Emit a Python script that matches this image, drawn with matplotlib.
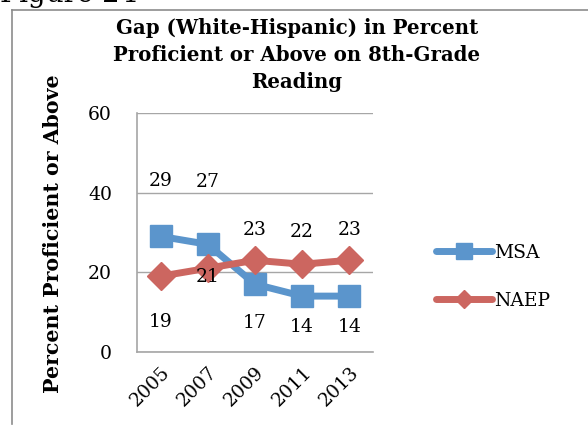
import matplotlib
matplotlib.use("Agg")
import matplotlib.pyplot as plt
from matplotlib.lines import Line2D

# data
years = ["2005", "2007", "2009", "2011", "2013"]
msa = [29, 27, 17, 14, 14]
naep = [19, 21, 23, 22, 23]
y_ticks = [0, 20, 40, 60]

# label offsets (points) as placed by the original chart
msa_label_dy = [40, 45, -28, -22, -22]
naep_label_dy = [-33, -6, 22, 23, 22]

BLUE = "#5b95cc"
RED = "#cc6660"
SERIF = "DejaVu Serif"

fig = plt.figure(figsize=(5.88, 4.26), dpi=100)
ax = fig.add_axes([0.233, 0.174, 0.401, 0.561])

x = range(len(years))
ax.plot(x, msa, color=BLUE, lw=5, marker="s", ms=16.5, solid_capstyle="round", zorder=3)
ax.plot(x, naep, color=RED, lw=5, marker="D", ms=14, solid_capstyle="round", zorder=3)

for i, (v, dy) in enumerate(zip(msa, msa_label_dy)):
    ax.annotate(str(v), (i, v), xytext=(0, dy), textcoords="offset points",
                ha="center", va="center", fontsize=13.5, family=SERIF, zorder=4)
for i, (v, dy) in enumerate(zip(naep, naep_label_dy)):
    ax.annotate(str(v), (i, v), xytext=(0, dy), textcoords="offset points",
                ha="center", va="center", fontsize=13.5, family=SERIF, zorder=4)

ax.set_xlim(-0.5, len(years) - 0.5)
ax.set_ylim(0, 60)
ax.set_yticks(y_ticks)
ax.set_yticklabels([str(t) for t in y_ticks], family=SERIF, fontsize=13.5)
ax.set_xticks(list(x))
ax.set_xticklabels(years, family=SERIF, fontsize=13.5, rotation=45,
                   ha="right", rotation_mode="anchor")
ax.tick_params(axis="y", length=0, pad=18)
ax.tick_params(axis="x", length=0, pad=8)
ax.grid(axis="y", color="#a6a6a6", lw=1)
ax.set_axisbelow(True)
for s in ["top", "right"]:
    ax.spines[s].set_visible(False)
for s in ["left", "bottom"]:
    ax.spines[s].set_color("#a6a6a6")
    ax.spines[s].set_linewidth(1.2)

fig.text(0.09, 0.452, "Percent Proficient or Above", rotation=90, ha="center", va="center",
         family=SERIF, fontsize=14.8, fontweight="bold")

fig.text(0.505, 0.871, "Gap (White-Hispanic) in Percent\nProficient or Above on 8th-Grade\nReading",
         ha="center", va="center", family=SERIF, fontsize=14.2, fontweight="bold", linespacing=1.45)

# page caption above the chart, mostly cropped off in the reference
fig.text(0.0, 1 - 1.5 / 426, "Figure 24", ha="left", va="baseline", family=SERIF, fontsize=20)

handles = [
    Line2D([], [], color=BLUE, lw=5, marker="s", ms=11, solid_capstyle="round"),
    Line2D([], [], color=RED, lw=5, marker="D", ms=9, solid_capstyle="round"),
]
fig.legend(handles, ["MSA", "NAEP"], loc="center left", bbox_to_anchor=(0.712, 0.35),
           frameon=False, prop={"family": SERIF, "size": 13.5}, handlelength=3,
           handletextpad=0.1, labelspacing=1.6)

# chart border (top and left edges visible in the crop)
fig.add_artist(Line2D([12 / 588, 1], [1 - 10 / 426] * 2, transform=fig.transFigure,
                      color="#8c8c8c", lw=1.2))
fig.add_artist(Line2D([12 / 588] * 2, [1 - 10 / 426, 0.005], transform=fig.transFigure,
                      color="#8c8c8c", lw=1.2))

fig.savefig("out.png", dpi=100)
